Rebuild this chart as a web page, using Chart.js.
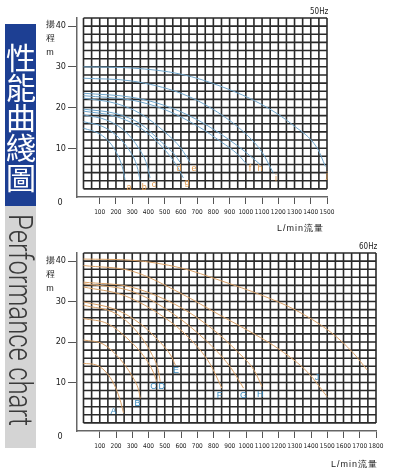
<!DOCTYPE html>
<html lang="zh-Hant">
<head>
<meta charset="UTF-8">
<title>性能曲綫圖</title>
<script src="https://cdn.jsdelivr.net/npm/chart.js"></script>
<style>
    body {
        margin: 0;
        width: 397px;
        height: 473px;
        background: #fff;
        position: relative;
        overflow: hidden;
        font-family: 'Liberation Sans', Arial, sans-serif;
    }
    canvas { position: absolute; left: 0; }
    #c50 { top: 0; }
    #c60 { top: 235px; }
    .side-cn {
        position: absolute; left: 5px; top: 24px; width: 31px; height: 182px;
        background: #1d3f93; color: #fff;
        writing-mode: vertical-rl;
        font: 30px 'Noto Sans CJK TC', sans-serif;
        line-height: 31px;
        box-sizing: border-box; padding-top: 19px;
        text-align: start;
    }
    .side-en {
        position: absolute; left: 5px; top: 206px; width: 31px; height: 242px;
        background: #d4d4d4; color: #3a3a3a;
        overflow: hidden;
    }
    .side-en span {
        position: absolute; left: 0; top: 8px; width: 31px;
        writing-mode: vertical-rl;
        font: 300 33px Roboto, 'Liberation Sans', sans-serif;
        line-height: 31px;
        transform-origin: top left;
        white-space: nowrap;
    }
    .ylab {
        position: absolute; left: 44px; width: 12px;
        font-size: 9px; line-height: 14px; text-align: center; color: #222;
    }
    .hz {
        position: absolute; font: 8px 'Liberation Sans Narrow', 'DejaVu Sans Condensed', sans-serif; color: #222;
    }
    .xlab {
        position: absolute; font-size: 9px; color: #222; letter-spacing: 1px; white-space: nowrap;
    }
</style>
</head>
<body>
<canvas id="c50" width="397" height="240"></canvas>
<canvas id="c60" width="397" height="238"></canvas>

<div class="side-cn">性能曲綫圖</div>
<div class="side-en"><span id="en">Performance chart</span></div>

<div class="ylab" style="top:17px">揚<br>程<br>m</div>
<div class="ylab" style="top:253px">揚<br>程<br>m</div>
<div class="hz" style="left:310px; top:7px">50Hz</div>
<div class="hz" style="left:359px; top:242px">60Hz</div>
<div class="xlab" style="left:277px; top:222px">L/min流量</div>
<div class="xlab" style="left:331px; top:458px">L/min流量</div>

<script>
// ---- 50 Hz (flow L/min, head m) ----
const names50 = ['a', 'b', 'c', 'd', 'e', 'f', 'g', 'h', 'i', 'j'];
const curve50a = [[0, 14.9], [100, 13.5], [170, 11], [220, 7.5], [245, 4.5], [256, 2.2]];
const curve50b = [[0, 16.5], [120, 15.3], [220, 12.5], [290, 9], [330, 5.5], [348, 2.2]];
const curve50c = [[0, 18.2], [150, 16.8], [260, 14], [340, 10], [390, 6], [410, 2.7]];
const curve50d = [[0, 19.6], [200, 18.5], [350, 16], [480, 11.5], [560, 8.5], [595, 6.5]];
const curve50e = [[0, 22.3], [200, 21], [350, 18.5], [500, 14], [600, 10], [656, 6.5]];
const curve50f = [[0, 22.9], [300, 21.8], [500, 19.5], [700, 15.5], [850, 11.5], [950, 8.5], [1006, 6]];
const curve50g = [[0, 19.1], [200, 17.8], [350, 15], [480, 10.5], [570, 6], [615, 2.7]];
const curve50h = [[0, 23.5], [300, 22.5], [500, 20.5], [700, 17], [900, 12], [1000, 9], [1088, 6]];
const curve50i = [[0, 27.2], [300, 26.5], [600, 23.5], [800, 19.5], [1000, 13.5], [1100, 9], [1168, 4]];
const curve50j = [[0, 30], [300, 29.7], [600, 28.2], [860, 25], [1100, 20.7], [1290, 15.7], [1440, 10], [1490, 5.5]];
const curves50 = [curve50a, curve50b, curve50c, curve50d, curve50e, curve50f, curve50g, curve50h, curve50i, curve50j];
const tags50 = [[280, 0.4], [375, 0.4], [434, 1], [588, 4.9], [681, 4.9], [1026, 4.9], [638, 1.5], [1088, 4.9], [1186, 2.6], [1500, 3.4]];
const xTicks50 = [100, 200, 300, 400, 500, 600, 700, 800, 900, 1000, 1100, 1200, 1300, 1400, 1500];

// ---- 60 Hz ----
const names60 = ['A', 'B', 'C', 'D', 'E', 'F', 'G', 'H', 'I', 'J'];
const curve60A = [[0, 14.7], [80, 14.3], [150, 12], [200, 8.5], [230, 5], [246, 2.5]];
const curve60B = [[0, 20.5], [120, 19.5], [220, 16], [300, 11.5], [340, 8], [349, 6.1]];
const curve60C = [[0, 25.8], [150, 24.5], [280, 20.5], [380, 16], [430, 12.5], [451, 10.2]];
const curve60D = [[0, 29.1], [200, 27], [330, 22.5], [420, 17], [460, 13], [472, 10.2]];
const curve60E = [[0, 29.9], [200, 28], [350, 24.5], [470, 20], [540, 16.5], [565, 14.3]];
const curve60F = [[0, 33.6], [250, 31.5], [500, 26], [650, 21], [780, 14.5], [851, 8.6]];
const curve60G = [[0, 34.4], [300, 32.5], [550, 27], [750, 20.5], [900, 14], [985, 8.6]];
const curve60H = [[0, 34.8], [300, 33.5], [600, 28.5], [800, 23], [950, 17.5], [1050, 13], [1098, 9]];
const curve60I = [[0, 38.9], [300, 37.5], [600, 32], [841, 26.6], [1050, 22], [1211, 18], [1380, 12.5], [1499, 6.5]];
const curve60J = [[0, 40.5], [300, 40.2], [600, 38.3], [842, 35.2], [1100, 31.5], [1300, 28], [1519, 22.5], [1662, 17.2], [1745, 13.1]];
const curves60 = [curve60A, curve60B, curve60C, curve60D, curve60E, curve60F, curve60G, curve60H, curve60I, curve60J];
const tags60 = [[184, 2.7], [332, 4.7], [430, 9], [482, 9], [570, 12.9], [837, 6.8], [985, 6.8], [1088, 7], null, [1437, 11.1]];
const xTicks60 = [100, 200, 300, 400, 500, 600, 700, 800, 900, 1000, 1100, 1200, 1300, 1400, 1500, 1600, 1700, 1800];

const yTicks = [10, 20, 30, 40];
const headTop = 42;

const narrow = "'Liberation Sans Narrow', 'Arial Narrow', 'DejaVu Sans Condensed', sans-serif";

// squared paper grid, curve letters and the corner "0"
const paperPlugin = {
    id: 'paper',
    beforeDatasetsDraw(chart, args, opts) {
        const { ctx, scales: { x, y } } = chart;
        const x0 = x.getPixelForValue(0), x1 = x.getPixelForValue(opts.xMax);
        const y0 = y.getPixelForValue(0), y1 = y.getPixelForValue(headTop);
        ctx.save();
        ctx.strokeStyle = '#2a2a2a';
        ctx.lineWidth = 1.6;
        ctx.beginPath();
        for (let v = 0; v <= opts.xMax; v += 50) {
            const px = x.getPixelForValue(v);
            ctx.moveTo(px, y0); ctx.lineTo(px, y1);
        }
        for (let v = 0; v <= headTop; v += 2) {
            const py = y.getPixelForValue(v);
            ctx.moveTo(x0, py); ctx.lineTo(x1, py);
        }
        ctx.stroke();
        ctx.restore();
    },
    afterDatasetsDraw(chart, args, opts) {
        const { ctx, chartArea, scales: { x, y } } = chart;
        ctx.save();
        ctx.font = "9px 'Liberation Sans', Arial, sans-serif";
        ctx.textAlign = 'center';
        ctx.textBaseline = 'middle';
        ctx.fillStyle = opts.tagColor;
        opts.names.forEach((n, i) => {
            const t = opts.tags[i];
            if (!t) return;
            ctx.fillText(n, x.getPixelForValue(t[0]), y.getPixelForValue(t[1]));
        });
        ctx.fillStyle = '#222';
        ctx.font = '9px ' + narrow;
        ctx.fillText('0', chartArea.left - 17, chartArea.bottom + 6);
        ctx.restore();
    }
};

function makeChart(id, names, curves, tags, xTicks, xMax, lineColor, tagColor, padRight, xAxisH) {
    return new Chart(document.getElementById(id), {
        type: 'line',
        data: {
            datasets: curves.map((c, i) => ({
                label: names[i],
                data: c.map(p => ({ x: p[0], y: p[1] })),
                borderColor: lineColor,
                borderWidth: 1,
                pointRadius: 0,
                fill: false,
                cubicInterpolationMode: 'monotone'
            }))
        },
        options: {
            responsive: false,
            animation: false,
            events: [],
            layout: { padding: { left: 0, top: 18, right: padRight, bottom: 0 } },
            plugins: {
                legend: { display: false },
                tooltip: { enabled: false },
                paper: { xMax: xMax, names: names, tags: tags, tagColor: tagColor }
            },
            scales: {
                x: {
                    type: 'linear', min: -40, max: xMax,
                    afterBuildTicks: s => { s.ticks = xTicks.map(v => ({ value: v })); },
                    afterFit: s => { s.height = xAxisH; },
                    ticks: {
                        autoSkip: false, maxRotation: 0, padding: 4, color: '#222',
                        font: { size: 6.5, family: narrow },
                        callback: v => String(v)
                    },
                    grid: { drawOnChartArea: false, drawTicks: true, tickLength: 7, color: '#555', lineWidth: 1 },
                    border: { display: true, color: '#666', width: 1.5 }
                },
                y: {
                    type: 'linear', min: -2, max: headTop,
                    afterBuildTicks: s => { s.ticks = yTicks.map(v => ({ value: v })); },
                    afterFit: s => { s.width = 77; },
                    ticks: { padding: 2, color: '#222', font: { size: 9, family: narrow }, callback: v => String(v) },
                    grid: { drawOnChartArea: false, drawTicks: true, tickLength: 9, color: '#555', lineWidth: 1 },
                    border: { display: true, color: '#666', width: 1.5 }
                }
            }
        },
        plugins: [paperPlugin]
    });
}

makeChart('c50', names50, curves50, tags50, xTicks50, 1500, '#6fa6cc', '#e39a4c', 70, 43);
makeChart('c60', names60, curves60, tags60, xTicks60, 1800, '#d9a066', '#3a8cc0', 21, 42);

// squeeze the English caption to the length of the grey strip
const en = document.getElementById('en');
const h = en.getBoundingClientRect().height;
en.style.transform = 'scaleY(' + (212 / h) + ')';
</script>
</body>
</html>
